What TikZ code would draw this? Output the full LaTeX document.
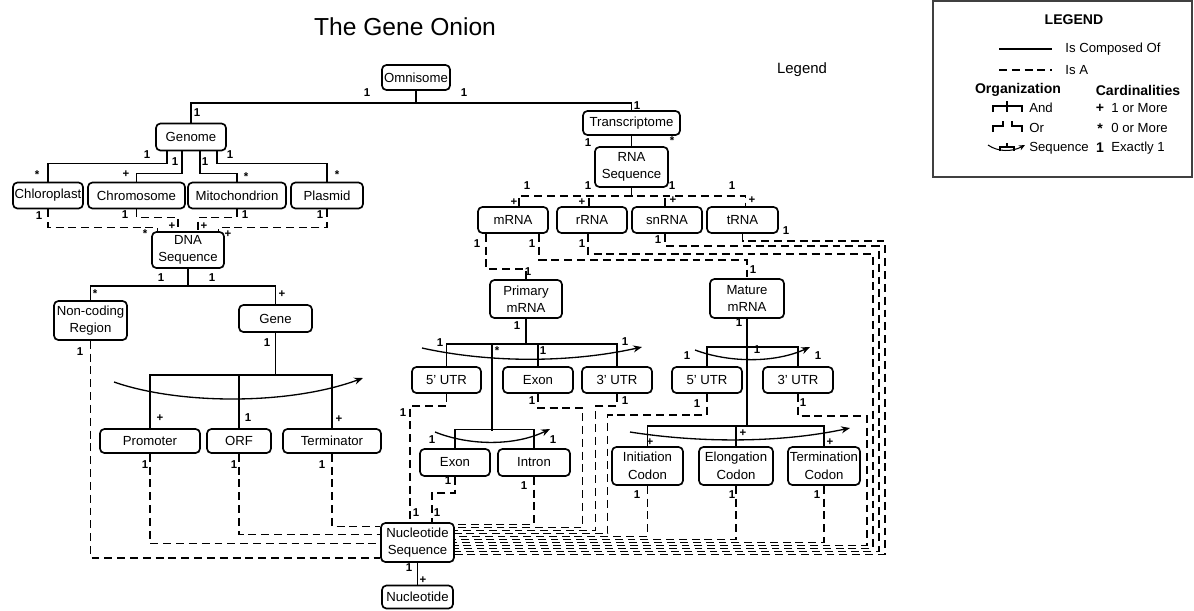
\documentclass[tikz,border=0pt]{standalone}
\usepackage{fontspec}
\setmainfont{Liberation Sans}
\usetikzlibrary{calc,arrows.meta}
\begin{document}
\begin{tikzpicture}[x=0.02cm,y=-0.02cm,
  box/.style={draw,line width=0.95pt,rounded corners=2.5pt,inner sep=0pt,align=center,font=\fontsize{7.5}{10}\selectfont},
  bw/.style={minimum width=#1*0.02cm},
  bh/.style={minimum height=#1*0.02cm},
  comp/.style={line width=0.75pt},
  isa/.style={line width=0.75pt,dash pattern=on 4.5pt off 2.8pt},
  seqarr/.style={line width=0.75pt,-{Stealth[length=5pt,width=4pt]}},
  card/.style={inner sep=0pt,font=\bfseries\fontsize{6.5}{7}\selectfont},
  leg/.style={inner sep=0pt,font=\fontsize{7.5}{9}\selectfont},
  legb/.style={inner sep=0pt,font=\bfseries\fontsize{8}{10}\selectfont},
  sym/.style={line width=0.6pt},
  ]
\useasboundingbox (0,0) rectangle (1194,610);

% title and legend word
\node[font=\fontsize{14}{16}\selectfont] (title) at (405,27) {The Gene Onion};
\node[font=\fontsize{8.5}{10}\selectfont] (legword) at (802,70) {Legend};

% nodes
\node[box,bw=68,bh=25] (omni) at (416,77.5) {Omnisome};
\node[box,bw=70,bh=27] (genome) at (191,137) {Genome};
\node[box,bw=97,bh=24] (transcriptome) at (631.5,123) {Transcriptome};
\node[box,bw=73,bh=40] (rnaseq) at (631.5,167) {RNA\\Sequence};
\node[box,bw=70,bh=26] (chloroplast) at (48,195.5) {Chloroplast};
\node[box,bw=97,bh=26] (chromosome) at (136.5,195.5) {Chromosome};
\node[box,bw=98,bh=26] (mito) at (237,195.5) {Mitochondrion};
\node[box,bw=72,bh=26] (plasmid) at (327,195.5) {Plasmid};
\node[box,bw=72,bh=36] (dnaseq) at (188,250) {DNA\\Sequence};
\node[box,bw=73,bh=39] (noncoding) at (90.5,320.5) {Non-coding\\Region};
\node[box,bw=73,bh=27] (gene) at (275.5,318.5) {Gene};
\node[box,bw=100,bh=24] (promoter) at (150,441) {Promoter};
\node[box,bw=64,bh=24] (orf) at (239,441) {ORF};
\node[box,bw=98,bh=24] (terminator) at (332,441) {Terminator};
\node[box,bw=70,bh=26] (mrna) at (513,220) {mRNA};
\node[box,bw=70,bh=26] (rrna) at (592,220) {rRNA};
\node[box,bw=70,bh=26] (snrna) at (667,220) {snRNA};
\node[box,bw=71,bh=26] (trna) at (742.5,220) {tRNA};
\node[box,bw=72,bh=38] (primary) at (526,299) {Primary\\mRNA};
\node[box,bw=74,bh=39] (mature) at (747,298.5) {Mature\\mRNA};
\node[box,bw=69,bh=26] (utr5p) at (446.5,380) {5' UTR};
\node[box,bw=70,bh=26] (exonp) at (538,380) {Exon};
\node[box,bw=70,bh=26] (utr3p) at (617,380) {3' UTR};
\node[box,bw=70,bh=26] (utr5m) at (707,380) {5' UTR};
\node[box,bw=70,bh=26] (utr3m) at (798,380) {3' UTR};
\node[box,bw=70,bh=27] (exons) at (455,462.5) {Exon};
\node[box,bw=72,bh=27] (intron) at (534,462.5) {Intron};
\node[box,bw=71,bh=38] (initc) at (647.5,466) {Initiation\\Codon};
\node[box,bw=74,bh=38] (elonc) at (736,466) {Elongation\\Codon};
\node[box,bw=72,bh=38] (termc) at (824,466) {Termination\\Codon};
\node[box,bw=73,bh=39] (nseq) at (417.5,542.5) {Nucleotide\\Sequence};
\node[box,bw=71,bh=23] (nuc) at (417.5,597) {Nucleotide};

% Omnisome
\coordinate (oj) at (omni.south |- 0,103);
\draw[comp] (omni.south) -- (oj);
\draw[comp] (genome.north) |- (oj) -| (transcriptome.north);

% Genome (Or)
\draw[comp] ($(genome.south)+(-24,0)$) -- ++(0,12) -| (chloroplast.north);
\draw[comp] ($(genome.south)+(-9,0)$) -- ++(0,22) -| (chromosome.north);
\draw[comp] ($(genome.south)+(9,0)$) -- ++(0,22) -| (mito.north);
\draw[comp] ($(genome.south)+(26,0)$) -- ++(0,12) -| (plasmid.north);

% to DNA sequence
\draw[isa] (chloroplast.south) -- ++(0,18) -| ($(dnaseq.north west)+(6,0)$);
\draw[isa] (chromosome.south) -- ++(0,8) -| ($(dnaseq.north)+(-10,0)$);
\draw[isa] (mito.south) -- ++(0,8) -| ($(dnaseq.north)+(10,0)$);
\draw[isa] (plasmid.south) -- ++(0,18) -| ($(dnaseq.north east)+(-6,0)$);

% DNA sequence children
\draw[comp] (dnaseq.south) -- ++(0,17) coordinate (dj);
\draw[comp] (noncoding.north) |- (dj) -| (gene.north);

% Gene
\draw[comp] (gene.south) -- ++(0,42) coordinate (gj);
\draw[comp] (promoter.north) |- (gj) -| (terminator.north);
\draw[comp] (orf.north) -- (orf.north |- gj);
\draw[seqarr] (114,382) .. controls (180,405) and (290,405) .. (363,378);

% left dashed to nucleotide sequence
\draw[isa] (noncoding.south) |- ($(nseq.south west)+(0,-5)$);
\draw[isa] (promoter.south) |- ($(nseq.north west)+(0,21)$);
\draw[isa] (orf.south) |- ($(nseq.north west)+(0,12)$);
\draw[isa] (terminator.south) |- ($(nseq.north west)+(0,4)$);

% Transcriptome
\draw[comp] (transcriptome.south) -- (rnaseq.north);
\draw[comp] (rnaseq.south) -- ++(0,8) coordinate (rj);
\draw[isa] ($(mrna.north)+(6,0)$) |- (rj) -| ($(trna.north)+(3,0)$);
\draw[isa] ($(rrna.north)+(-3,0)$) -- ++(0,-12);
\draw[isa] ($(snrna.north)+(-2,0)$) -- ++(0,-12);

% mRNA to primary / mature
\draw[isa] ($(mrna.south)+(-27,0)$) -- ++(0,35) -| (primary.north);
\draw[isa] ($(mrna.south)+(26,0)$) -- ++(0,26) -| (mature.north);

% rRNA, snRNA, tRNA, 3'UTR to nucleotide sequence
\draw[isa] ($(rrna.south)+(-4,0)$) -- ++(0,20) -| ($(nseq.north east)+(418,26)$) -- ($(nseq.north east)+(0,26)$);
\draw[isa] ($(snrna.south)+(-2,0)$) -- ++(0,12) -| ($(nseq.north east)+(424,29)$) -- ($(nseq.north east)+(0,29)$);
\draw[isa] (trna.south) -- ++(0,7) -| ($(nseq.north east)+(430,32)$) -- ($(nseq.north east)+(0,32)$);
\draw[isa] (utr3m.south) -- ++(0,22) -| ($(nseq.north east)+(412,23)$) -- ($(nseq.north east)+(0,23)$);

% codons
\draw[isa] (initc.south) |- ($(nseq.north east)+(0,14)$);
\draw[isa] (elonc.south) |- ($(nseq.north east)+(0,17)$);
\draw[isa] (termc.south) |- ($(nseq.north east)+(0,20)$);

% primary children dashed
\draw[isa] (utr5p.south) -- ++(0,12) -| ($(nseq.north)+(-7.5,0)$);
\draw[isa] (exonp.south) -- ++(0,14) -| ($(nseq.north east)+(128,5)$) -- ($(nseq.north east)+(0,5)$);
\draw[isa] (utr3p.south) -- ++(0,12) -| ($(nseq.north east)+(141,8)$) -- ($(nseq.north east)+(0,8)$);
\draw[isa] (utr5m.south) -- ++(0,21) -| ($(nseq.north east)+(153,11)$) -- ($(nseq.north east)+(0,11)$);
\draw[isa] (exons.south) -- ++(0,16) -| ($(nseq.north)+(14.5,0)$);
\draw[isa] (intron.south) |- ($(nseq.north east)+(0,2)$);

% Primary subtree
\draw[comp] (primary.south) -- ++(0,25) coordinate (pj);
\draw[comp] (utr5p.north) |- (pj) -| (utr3p.north);
\draw[comp] (exonp.north) -- (exonp.north |- pj);
\draw[comp] ($(pj)+(-34,0)$) -- ++(0,87);
\draw[comp] (exons.north) -- ++(0,-19) -| (intron.north);
\draw[seqarr] (422,348) .. controls (490,363) and (570,363) .. (642,347);
\draw[seqarr] (435,432) .. controls (470,446) and (515,446) .. (550,429);

% Mature subtree
\draw[comp] (mature.south) -- ++(0,28) coordinate (mj);
\draw[comp] (utr5m.north) |- (mj) -| (utr3m.north);
\draw[comp] (mj) -- (mj |- 0,426) coordinate (cj);
\draw[comp] (initc.north) |- (cj) -| (termc.north);
\draw[comp] (elonc.north) -- (elonc.north |- cj);
\draw[seqarr] (695,350) .. controls (730,363) and (775,363) .. (810,347);
\draw[seqarr] (630,432) .. controls (700,443) and (780,443) .. (850,428);

% Nucleotide
\draw[comp] (nseq.south) -- (nuc.north);

% cardinalities
\foreach \x/\y/\t [count=\i] in {
 367/93/1, 464/93/1, 637/106/1, 197/113/1,
 147/155/1, 175/162/1, 205/162/1, 230/155/1,
 37/175/*, 126/174/+, 246/177/*, 337/175/*,
 39/216/1, 125/215/1, 245/215/1, 320/215/1,
 145/234/*, 172/226/+, 204/226/+, 228/234/+,
 161/278/1, 212/278/1, 95/294/*, 282/294/+,
 267/343/1, 160/418/+, 248/418/1, 339/419/+,
 80/352/1, 145/465/1, 234/465/1, 322/465/1,
 588/143/1, 672/141/*,
 527/186/1, 588/186/1, 672/186/1, 732/186/1,
 514/202/+, 582/202/+, 673/200/+, 752/200/+,
 477/244/1, 532/244/1, 582/244/1, 658/240/1, 786/231/1,
 528/272/1, 753/270/1,
 517/326/1, 440/343/1, 497/351/*, 543/351/1, 625/342/1,
 739/323/1, 757/350/1, 687/356/1, 818/356/1,
 650/442/+, 743/433/+, 830/442/+,
 403/413/1, 532/401/1, 625/401/1, 697/404/1, 803/403/1,
 432/440/1, 553/440/1, 448/481/1, 524/486/1,
 416/513/1, 437/513/1,
 637/495/1, 732/495/1, 817/495/1,
 409/568/1, 423/580/+}
 \node[card] (c\i) at (\x,\y) {\t};

% legend box
\draw[line width=0.6pt,black!75] (933,1) rectangle (1192,177);
\node[legb] (legtitle) at (1074,20) {LEGEND};
\draw[comp] (999,49) -- (1052,49);
\node[leg,anchor=west] (lcomp) at (1065,49) {Is Composed Of};
\draw[isa] (999,70) -- (1052,70);
\node[leg,anchor=west] (lisa) at (1065,70) {Is A};
\node[legb] (lorg) at (1018,90) {Organization};
\node[legb] (lcard) at (1138,90) {Cardinalities};
% And symbol
\draw[sym] (993,112) -- (993,106) -- (1022,106) -- (1022,112) (1007,101) -- (1007,112);
\node[leg,anchor=west] (land) at (1029,108) {And};
% Or symbol
\draw[sym] (993,132) -- (993,126) -- (1003,126) -- (1003,121) (1012,121) -- (1012,126) -- (1022,126) -- (1022,132);
\node[leg,anchor=west] (lor) at (1029,128) {Or};
% Sequence symbol
\draw[sym,-{Stealth[length=3.5pt,width=3pt]}] (988,145) .. controls (998,152) and (1012,152) .. (1025,145);
\draw[sym] (1000,151) -- (1000,147) -- (1014,147) -- (1014,151) (1007,147) -- (1007,143);
\node[leg,anchor=west] (lseq) at (1029,148) {Sequence};
\node[legb] (lplus) at (1100,108) {+};
\node[legb] (lstar) at (1100,129) {*};
\node[legb] (lone) at (1100,148) {1};
\node[leg,anchor=west] (l1m) at (1111,108) {1 or More};
\node[leg,anchor=west] (l0m) at (1111,128) {0 or More};
\node[leg,anchor=west] (lex) at (1111,148) {Exactly 1};
\end{tikzpicture}
\end{document}
